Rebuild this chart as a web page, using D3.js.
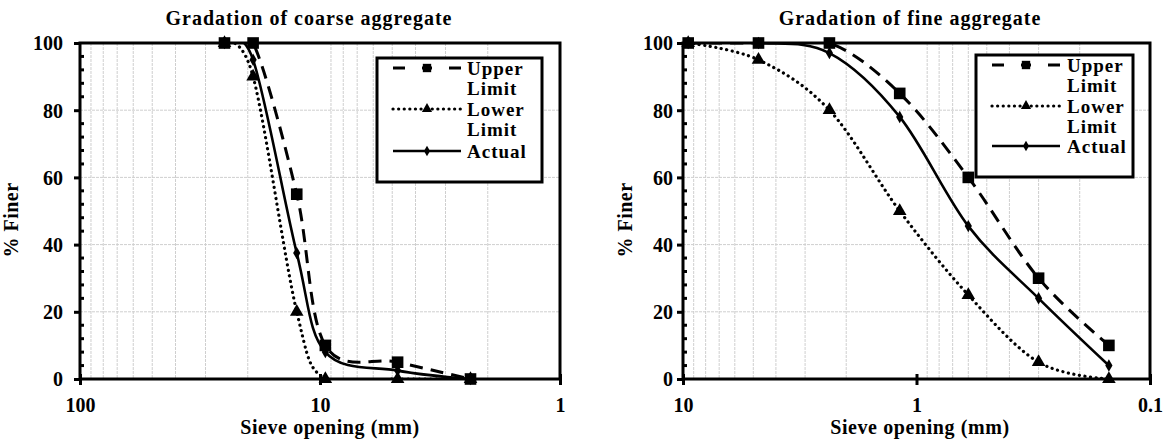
<!DOCTYPE html>
<html>
<head>
<meta charset="utf-8">
<script src="https://cdn.jsdelivr.net/npm/d3@7"></script>
</head>
<body style="margin:0; background:#fff">
<svg id="chart" width="1168" height="443"></svg>
<script>
// sieve sizes (mm) and % passing
const coarseSieves = [25, 19, 12.5, 9.5, 4.75, 2.36];
const coarseUpper = [100, 100, 55, 10, 5, 0];
const coarseLower = [100, 90, 20, 0, 0, 0];
const coarseActual = [100, 95, 37.5, 8, 2.5, 0];

const fineSieves = [9.5, 4.75, 2.36, 1.18, 0.6, 0.3, 0.15];
const fineUpper = [100, 100, 100, 85, 60, 30, 10];
const fineLower = [100, 95, 80, 50, 25, 5, 0];
const fineActual = [100, 100, 97, 78, 45.5, 24, 4];

const seriesNames = ["Upper Limit", "Lower Limit", "Actual"];
const coarseXTicks = [100, 10, 1];
const fineXTicks = [10, 1, 0.1];
const yTicks = [0, 20, 40, 60, 80, 100];

const FONT = "'Liberation Serif', 'Times New Roman', serif";

// inline style, the stylesheet route didn't take
function serif(sel, size) {
  return sel.style('font-family', FONT).style('font-weight', 'bold')
    .style('font-size', size + 'px').style('fill', '#000');
}

class GradationChart {

  constructor(_config, _data) {
    this.config = _config;
    this.data = _data;
    this.initVis();
  }

  initVis() {
    let vis = this;
    let c = vis.config;

    vis.svg = d3.select('#chart');
    vis.g = vis.svg.append('g');

    vis.x = d3.scaleLog().domain(c.xDomain).range([c.left, c.right]);
    vis.y = d3.scaleLinear().domain([0, 100]).range([c.bottom, c.top]);

    // clip so the smoothed curves don't spill past the frame
    vis.g.append('clipPath').attr('id', c.id + '-clip')
      .append('rect')
        .attr('x', c.left).attr('y', c.top)
        .attr('width', c.right - c.left).attr('height', c.bottom - c.top);

    // vertical grid on every 2..9 of each decade
    let d0 = Math.log10(d3.min(c.xDomain)), d1 = Math.log10(d3.max(c.xDomain));
    let minorX = [];
    for (let e = d0; e < d1; e++) {
      for (let m = 2; m <= 9; m++) minorX.push(m * Math.pow(10, e));
    }
    vis.g.selectAll('.vgrid')
      .data(minorX)
      .join('line')
        .attr('x1', d => vis.x(d)).attr('x2', d => vis.x(d))
        .attr('y1', c.top).attr('y2', c.bottom)
        .attr('stroke', '#cfcfcf').attr('stroke-width', 1)
        .attr('stroke-dasharray', '3,1');

    vis.g.selectAll('.hgrid')
      .data(yTicks.slice(1, -1))
      .join('line')
        .attr('x1', c.left).attr('x2', c.right)
        .attr('y1', d => vis.y(d)).attr('y2', d => vis.y(d))
        .attr('stroke', '#cfcfcf').attr('stroke-width', 1)
        .attr('stroke-dasharray', '3,1');

    // y axis: major ticks outside, minor ticks every 4 inside
    let yAxis = d3.axisLeft(vis.y).tickValues(yTicks).tickSize(6).tickPadding(c.yPad).tickFormat(d3.format('d'));
    vis.g.append('g')
      .attr('transform', `translate(${c.left},0)`)
      .call(yAxis)
      .call(g => g.select('.domain').remove())
      .call(g => g.selectAll('line').attr('stroke-width', 3))
      .call(g => serif(g.selectAll('text'), 20).attr('dy', '0.34em'));

    vis.g.selectAll('.ymin')
      .data(d3.range(0, 101, 4).filter(d => d % 20 != 0))
      .join('line')
        .attr('x1', c.left).attr('x2', c.left + 4)
        .attr('y1', d => vis.y(d)).attr('y2', d => vis.y(d))
        .attr('stroke', '#000').attr('stroke-width', 3);

    let xAxis = d3.axisBottom(vis.x).tickValues(c.xTicks).tickSize(6).tickPadding(13).tickFormat(d => d);
    vis.g.append('g')
      .attr('transform', `translate(0,${c.bottom})`)
      .call(xAxis)
      .call(g => g.select('.domain').remove())
      .call(g => g.selectAll('line').attr('stroke-width', 3).attr('y1', -5))
      .call(g => serif(g.selectAll('text'), 20));

    // frame
    vis.g.append('rect')
      .attr('x', c.left).attr('y', c.top)
      .attr('width', c.right - c.left).attr('height', c.bottom - c.top)
      .attr('fill', 'none').attr('stroke', '#000').attr('stroke-width', 3);

    serif(vis.g.append('text'), 20)
      .attr('x', c.titleX).attr('y', 25)
      .attr('text-anchor', 'middle')
      .style('letter-spacing', '1px')
      .text(c.title);

    serif(vis.g.append('text'), 20)
      .attr('x', c.xTitleX).attr('y', 434)
      .attr('text-anchor', 'middle')
      .style('letter-spacing', '0.6px')
      .text('Sieve opening (mm)');

    serif(vis.g.append('text'), 20)
      .attr('transform', `translate(${c.left - c.yTitleOff},${c.yTitleY}) rotate(-90)`)
      .attr('text-anchor', 'middle')
      .style('letter-spacing', '0.5px')
      .text('% Finer');

    vis.styles = [
      { dash: '13,8', width: 3, cap: 'butt', symbol: d3.symbolSquare, size: 135, legSize: 70, legDash: '12,17,10,17,12' },
      { dash: '0.1,5.5', width: 3.2, cap: 'round', symbol: d3.symbolTriangle, size: 80, legSize: 45, legDash: '0.1,5.5' },
      { dash: null, width: 2.6, cap: 'butt', symbol: d3.symbolDiamond, size: 45, legSize: 32, legDash: null }
    ];

    vis.updateVis();
    vis.renderLegend();
  }

  updateVis() {
    let vis = this;
    let c = vis.config;

    vis.line = d3.line()
      .x(d => vis.x(d.size))
      .y(d => vis.y(d.pass))
      .curve(d3.curveCatmullRom.alpha(0));

    let plot = vis.g.append('g').attr('clip-path', `url(#${c.id}-clip)`);
    let marks = vis.g.append('g');

    vis.data.forEach((series, i) => {
      let st = vis.styles[i];
      let pts = series.map((v, j) => ({ size: c.sieves[j], pass: v }));

      plot.append('path')
        .datum(pts)
        .attr('d', vis.line)
        .attr('fill', 'none')
        .attr('stroke', '#000')
        .attr('stroke-width', st.width)
        .attr('stroke-linecap', st.cap)
        .attr('stroke-dasharray', st.dash);

      marks.selectAll('.m' + i)
        .data(pts)
        .join('path')
          .attr('transform', d => `translate(${vis.x(d.size)},${vis.y(d.pass)})`)
          .attr('d', d3.symbol().type(st.symbol).size(st.size))
          .attr('fill', '#000');
    });
  }

  renderLegend() {
    let vis = this;
    let c = vis.config;
    let L = c.legend;

    let leg = vis.g.append('g');
    leg.append('rect')
      .attr('x', L.x).attr('y', L.y)
      .attr('width', L.w).attr('height', L.h)
      .attr('fill', '#fff').attr('stroke', '#000').attr('stroke-width', 3);

    // each name wraps to a second line, like the original
    let rowY = [L.y + 10, L.y + 51, L.y + L.lastRow];
    seriesNames.forEach((name, i) => {
      let st = vis.styles[i];
      let cy = rowY[i];
      leg.append('line')
        .attr('x1', L.x + 16).attr('x2', L.x + 84)
        .attr('y1', cy).attr('y2', cy)
        .attr('stroke', '#000').attr('stroke-width', st.width)
        .attr('stroke-linecap', st.cap)
        .attr('stroke-dasharray', st.legDash);
      leg.append('path')
        .attr('transform', `translate(${L.x + 50},${cy})`)
        .attr('d', d3.symbol().type(st.symbol).size(st.legSize))
        .attr('fill', '#000');

      let words = name.split(' ');
      let t = serif(leg.append('text'), 19)
        .attr('x', L.x + L.textOff).attr('y', cy + 7)
        .style('letter-spacing', '1px');
      words.forEach((w, k) => {
        t.append('tspan').attr('x', L.x + L.textOff).attr('dy', k == 0 ? 0 : 20).text(w);
      });
    });
  }
}

new GradationChart({
  id: 'coarse',
  title: 'Gradation of coarse aggregate',
  titleX: 309, xTitleX: 330,
  left: 80, right: 560, top: 43, bottom: 379,
  xDomain: [100, 1],
  xTicks: coarseXTicks,
  sieves: coarseSieves,
  yPad: 11, yTitleOff: 62, yTitleY: 220,
  legend: { x: 377, y: 58, w: 165, h: 124, textOff: 90, lastRow: 93 }
}, [coarseUpper, coarseLower, coarseActual]);

new GradationChart({
  id: 'fine',
  title: 'Gradation of fine aggregate',
  titleX: 910, xTitleX: 920,
  left: 683, right: 1150, top: 43, bottom: 379,
  xDomain: [10, 0.1],
  xTicks: fineXTicks,
  sieves: fineSieves,
  yPad: 4, yTitleOff: 51, yTitleY: 220,
  legend: { x: 976, y: 55, w: 157, h: 122, textOff: 91, lastRow: 91 }
}, [fineUpper, fineLower, fineActual]);
</script>
</body>
</html>
